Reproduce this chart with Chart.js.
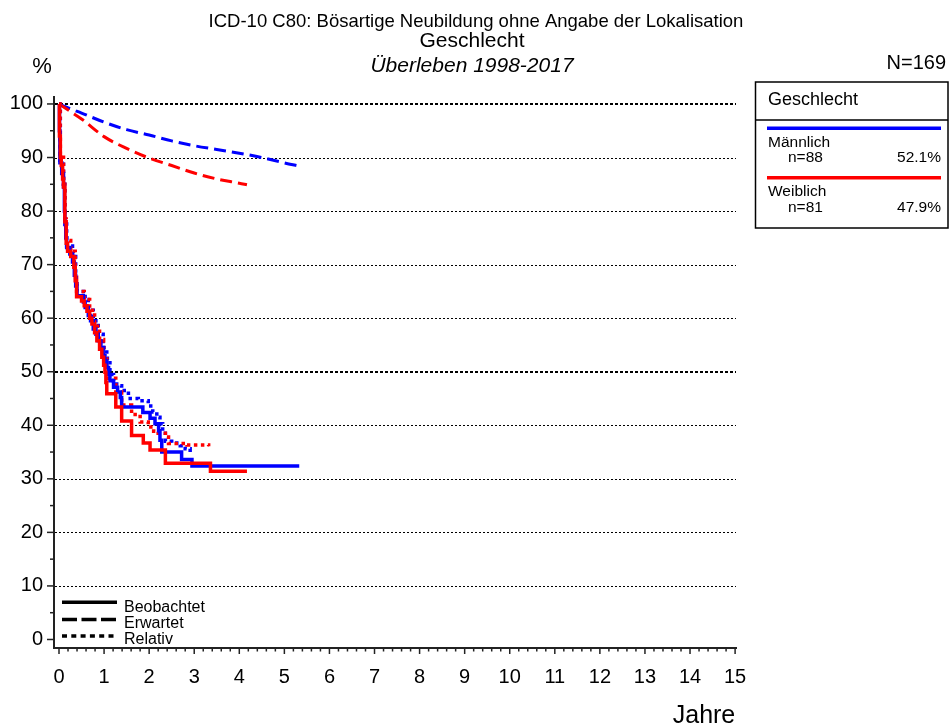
<!DOCTYPE html>
<html>
<head>
<meta charset="utf-8">
<script src="https://cdn.jsdelivr.net/npm/chart.js@4.4.0/dist/chart.umd.min.js"></script>
<style>
html,body{margin:0;padding:0;background:#fff;}
#c{display:block;}
</style>
</head>
<body>
<canvas id="c" width="952" height="728"></canvas>
<script>
// ---------- texts ----------
const titleLine1 = 'ICD-10 C80: Bösartige Neubildung ohne Angabe der Lokalisation';
const titleLine2 = 'Geschlecht';
const titleLine3 = 'Überleben 1998-2017';
const yAxisTitle = '%';
const xAxisTitle = 'Jahre';
const totalLabel = 'N=169';
const legendHeader = 'Geschlecht';
const groupNames = ['Männlich', 'Weiblich'];
const groupCounts = ['n=88', 'n=81'];
const groupShares = ['52.1%', '47.9%'];
const groupColors = ['#0000ff', '#ff0000'];
const lineTypeLabels = ['Beobachtet', 'Erwartet', 'Relativ'];

// ---------- ticks ----------
const yearTicks = [0,1,2,3,4,5,6,7,8,9,10,11,12,13,14,15];
const percentTicks = [0,10,20,30,40,50,60,70,80,90,100];

// ---------- Männlich ----------
const maleObsYears = [0,0.01,0.02,0.06,0.10,0.12,0.13,0.15,0.17,0.24,0.30,0.34,0.37,0.40,0.54,0.58,0.65,0.70,0.76,0.82,0.87,0.93,0.98,1.02,1.06,1.10,1.13,1.21,1.30,1.36,1.39,1.86,2.02,2.13,2.21,2.24,2.28,2.72,2.95,5.33];
const maleObsPct   = [100,95,89,87,84.5,80,77.5,75,73.2,72,70.5,68,66,64.2,63,62,60.5,59.5,58,57,55.8,54.5,53,52,50.8,49.5,48.3,47.1,46.2,45.2,43.4,42.4,41.3,40.3,39.0,37.2,35.0,33.6,32.4,32.4];
const maleRelYears = [0,0.02,0.10,0.13,0.17,0.30,0.37,0.40,0.58,0.65,0.76,0.87,0.98,1.06,1.13,1.21,1.28,1.39,1.54,1.76,1.98,2.08,2.17,2.24,2.30,2.36,2.50,2.69,2.80,2.91];
const maleRelPct   = [100,89.5,85,78.5,73.5,71.5,67,65,63.5,61.5,59.5,57,54.5,52.5,49.5,48.2,47.4,46.5,45.0,44.6,43.6,42.5,41.5,40.3,38.5,37.0,36.7,36.2,35.6,35.0];
const maleExpYears = [0,0.25,0.5,1,1.5,2,2.5,3,3.5,4,4.5,5,5.33];
const maleExpPct   = [100,99.1,98.3,96.6,95.2,94.2,93.1,92.2,91.5,90.8,90.0,89.0,88.4];

// ---------- Weiblich ----------
const femObsYears = [0,0.01,0.03,0.05,0.08,0.10,0.13,0.16,0.19,0.26,0.33,0.36,0.39,0.50,0.56,0.62,0.68,0.73,0.79,0.84,0.90,0.95,0.99,1.02,1.04,1.06,1.26,1.39,1.61,1.87,2.02,2.36,3.36,4.17];
const femObsPct   = [100,94,90,88.5,86,84.5,78,74,72.5,71.5,69.5,67,64,63.2,62.3,61.3,60,58.9,57.3,55.8,54.2,52.7,51.2,49.9,48,45.9,43.4,40.8,38.1,36.7,35.4,32.9,31.4,31.4];
const femRelYears = [0,0.03,0.10,0.13,0.16,0.26,0.36,0.39,0.56,0.68,0.79,0.90,0.99,1.06,1.26,1.39,1.61,1.80,1.98,2.10,2.20,2.36,2.43,2.84,3.32];
const femRelPct   = [100,90.5,85,78.5,74.5,72.5,68,65,63.5,61.5,58.5,56,52.8,48.8,46.2,43.8,42.0,40.6,39.7,38.9,38.5,37.8,36.6,36.3,36.1];
const femExpYears = [0,0.25,0.5,1,1.5,2,2.5,3,3.5,4,4.17];
const femExpPct   = [100,98.6,97.2,93.9,91.7,89.9,88.5,87.1,86.0,85.2,84.9];

const pts = (xs, ys) => xs.map((x, i) => ({x: x, y: ys[i]}));

const FONT = '"Liberation Sans", Arial, sans-serif';
Chart.defaults.font.family = FONT;

const dashExp = [12, 6];
const dotRel = [3.5, 3.5];

const datasets = [
  {label:'Weiblich beobachtet', data: pts(femObsYears, femObsPct), borderColor: groupColors[1], borderWidth: 3.5, stepped: 'before'},
  {label:'Männlich beobachtet', data: pts(maleObsYears, maleObsPct), borderColor: groupColors[0], borderWidth: 3.5, stepped: 'before'},
  {label:'Weiblich relativ', data: pts(femRelYears, femRelPct), borderColor: groupColors[1], borderWidth: 3.5, borderDash: dotRel, stepped: 'before'},
  {label:'Männlich relativ', data: pts(maleRelYears, maleRelPct), borderColor: groupColors[0], borderWidth: 3.5, borderDash: dotRel, stepped: 'before'},
  {label:'Weiblich erwartet', data: pts(femExpYears, femExpPct), borderColor: groupColors[1], borderWidth: 3, borderDash: dashExp, cubicInterpolationMode: 'monotone'},
  {label:'Männlich erwartet', data: pts(maleExpYears, maleExpPct), borderColor: groupColors[0], borderWidth: 3, borderDash: dashExp, cubicInterpolationMode: 'monotone'}
].map(d => Object.assign({showLine: true, pointRadius: 0, fill: false, borderCapStyle: 'butt', borderJoinStyle: 'miter'}, d));

const gridTicksPlugin = {
  id: 'gridTicks',
  beforeDatasetsDraw(chart) {
    const {ctx, chartArea: a, scales: {x, y}} = chart;
    ctx.save();
    ctx.strokeStyle = '#000';
    // dotted horizontal grid lines
    percentTicks.forEach(v => {
      if (v === 0) return;
      const major = v % 50 === 0;
      const py = Math.round(y.getPixelForValue(v)) + (major ? 0 : 0.5);
      ctx.lineWidth = major ? 2 : 1;
      ctx.setLineDash(major ? [3, 2] : [2, 2]);
      ctx.beginPath();
      ctx.moveTo(a.left + 1, py);
      ctx.lineTo(a.right, py);
      ctx.stroke();
    });
    ctx.setLineDash([]);
    ctx.strokeStyle = '#222';
    ctx.lineWidth = 1.5;
    // y ticks (major every 10, minor every 5)
    percentTicks.forEach((v, i) => {
      const py = y.getPixelForValue(v);
      ctx.beginPath(); ctx.moveTo(a.left - 7, py); ctx.lineTo(a.left, py); ctx.stroke();
      if (i < percentTicks.length - 1) {
        const pm = y.getPixelForValue((v + percentTicks[i + 1]) / 2);
        ctx.beginPath(); ctx.moveTo(a.left - 4, pm); ctx.lineTo(a.left, pm); ctx.stroke();
      }
    });
    // x ticks (major every year, minor every 0.2)
    yearTicks.forEach((v, i) => {
      const px = x.getPixelForValue(v);
      ctx.beginPath(); ctx.moveTo(px, a.bottom); ctx.lineTo(px, a.bottom + 6); ctx.stroke();
      if (i < yearTicks.length - 1) {
        for (let k = 1; k < 5; k++) {
          const pm = x.getPixelForValue(v + k * 0.2);
          ctx.beginPath(); ctx.moveTo(pm, a.bottom); ctx.lineTo(pm, a.bottom + 3.5); ctx.stroke();
        }
      }
    });
    ctx.restore();
  },
  afterDraw(chart) {
    const ctx = chart.ctx;
    ctx.save();
    ctx.fillStyle = '#000';
    ctx.textBaseline = 'alphabetic';
    // titles
    ctx.textAlign = 'center';
    ctx.font = '18.5px ' + FONT;
    ctx.fillText(titleLine1, 476, 26.7);
    ctx.font = '21px ' + FONT;
    ctx.fillText(titleLine2, 472, 46.7);
    ctx.font = 'italic 21px ' + FONT;
    ctx.fillText(titleLine3, 472, 71.5);
    // axis titles
    ctx.font = '22px ' + FONT;
    ctx.fillText(yAxisTitle, 42, 73);
    ctx.font = '25px ' + FONT;
    ctx.fillText(xAxisTitle, 704, 723);
    // N
    ctx.textAlign = 'right';
    ctx.font = '20px ' + FONT;
    ctx.fillText(totalLabel, 946, 68.5);
    // legend box
    ctx.strokeStyle = '#000';
    ctx.lineWidth = 1.5;
    ctx.strokeRect(755.5, 82, 192.5, 146);
    ctx.beginPath(); ctx.moveTo(755.5, 120); ctx.lineTo(948, 120); ctx.stroke();
    ctx.textAlign = 'left';
    ctx.font = '18px ' + FONT;
    ctx.fillText(legendHeader, 768, 105);
    const rows = [128.3, 177.7];
    rows.forEach((ly, i) => {
      ctx.strokeStyle = groupColors[i];
      ctx.lineWidth = 3.5;
      ctx.beginPath(); ctx.moveTo(767, ly); ctx.lineTo(941, ly); ctx.stroke();
      ctx.font = '15.5px ' + FONT;
      ctx.textAlign = 'left';
      ctx.fillText(groupNames[i], 768, ly + 18.5);
      ctx.fillText(groupCounts[i], 788, ly + 34);
      ctx.textAlign = 'right';
      ctx.fillText(groupShares[i], 941, ly + 34);
    });
    // line-type legend (bottom left)
    const dashes = [[], [15, 4.5], [5, 4.3]];
    const lys = [602.3, 619.5, 636];
    const tys = [611.7, 628.3, 644];
    ctx.textAlign = 'left';
    ctx.font = '16px ' + FONT;
    lys.forEach((ly, i) => {
      ctx.strokeStyle = '#000';
      ctx.lineWidth = 3.5;
      ctx.setLineDash(dashes[i]);
      ctx.beginPath(); ctx.moveTo(62, ly); ctx.lineTo(117, ly); ctx.stroke();
      ctx.setLineDash([]);
      ctx.fillText(lineTypeLabels[i], 124, tys[i]);
    });
    ctx.restore();
  }
};

new Chart(document.getElementById('c'), {
  type: 'scatter',
  data: {datasets: datasets},
  options: {
    responsive: false,
    animation: false,
    devicePixelRatio: 1,
    layout: {padding: {left: 0, right: 216, top: 97, bottom: 30}},
    plugins: {legend: {display: false}, title: {display: false}, tooltip: {enabled: false}},
    elements: {line: {tension: 0}},
    scales: {
      x: {
        type: 'linear',
        min: -0.111,
        max: 15.02,
        afterBuildTicks(scale) { scale.ticks = yearTicks.map(v => ({value: v})); },
        afterFit(scale) { scale.height = 50; },
        grid: {display: false, drawTicks: false},
        border: {display: true, color: '#222', width: 2},
        ticks: {color: '#000', font: {size: 20, family: FONT}, padding: 17, maxRotation: 0, autoSkip: false}
      },
      y: {
        type: 'linear',
        min: -1.59,
        max: 101.3,
        afterBuildTicks(scale) { scale.ticks = percentTicks.map(v => ({value: v})); },
        afterFit(scale) { scale.width = 54; },
        grid: {display: false, drawTicks: false},
        border: {display: true, color: '#222', width: 2},
        ticks: {color: '#000', font: {size: 20, family: FONT}, padding: 11, autoSkip: false}
      }
    }
  },
  plugins: [gridTicksPlugin]
});
</script>
</body>
</html>
